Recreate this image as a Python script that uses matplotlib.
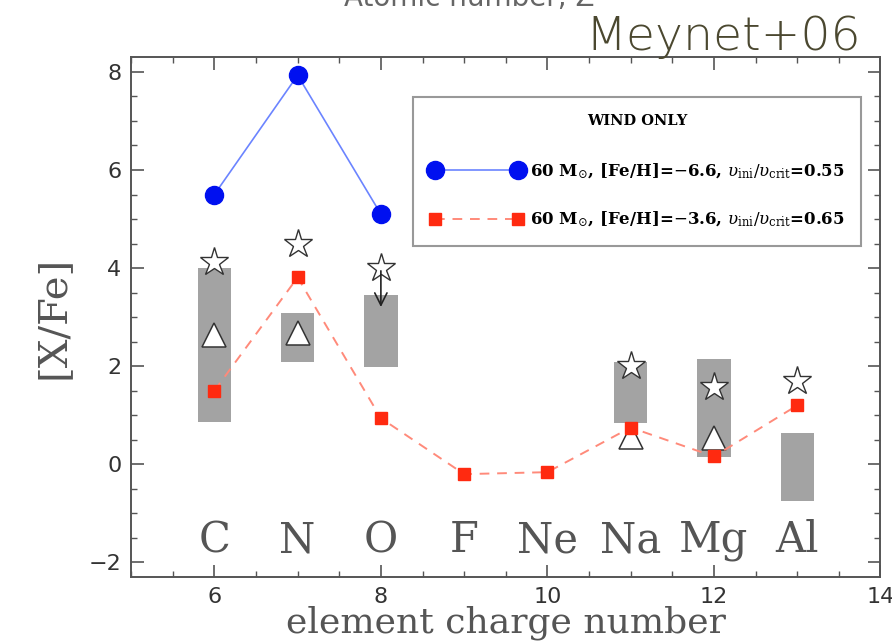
import matplotlib
matplotlib.use('Agg')
import numpy as np
import matplotlib.pyplot as plt
from matplotlib.ticker import MultipleLocator

# elementos e numero atomico
elements = ['C', 'N', 'O', 'F', 'Ne', 'Na', 'Mg', 'Al']
z_elem = [6, 7, 8, 9, 10, 11, 12, 13]

# modelo 1: 60 Msun, [Fe/H]=-6.6 (vento apenas)
z_m1 = [6, 7, 8]
xfe_m1 = [5.5, 7.93, 5.1]

# modelo 2: 60 Msun, [Fe/H]=-3.6 (vento apenas)
z_m2 = [6, 7, 8, 9, 10, 11, 12, 13]
xfe_m2 = [1.5, 3.81, 0.94, -0.2, -0.16, 0.75, 0.16, 1.2]

# faixas observadas (caixas cinzas)
z_box = [6, 7, 8, 11, 12, 13]
box_lo = [0.86, 2.08, 1.98, 0.84, 0.14, -0.75]
box_hi = [4.0, 3.08, 3.45, 2.08, 2.14, 0.63]

# estrelas observadas
z_star = [6, 7, 8, 11, 12, 13]
xfe_star = [4.12, 4.5, 4.0, 2.0, 1.57, 1.7]
z_tri = [6, 7, 11, 12]
xfe_tri = [2.63, 2.67, 0.55, 0.53]

# limite superior (seta) para O
z_lim = 8
lim_from, lim_to = 4.0, 3.15

lab1 = r'60 M$_{\odot}$, [Fe/H]=$-$6.6, $\upsilon_{\rm ini}/\upsilon_{\rm crit}$=0.55'
lab2 = r'60 M$_{\odot}$, [Fe/H]=$-$3.6, $\upsilon_{\rm ini}/\upsilon_{\rm crit}$=0.65'

plt.rcParams['mathtext.fontset'] = 'dejavuserif'

fig = plt.figure(figsize=(8.92, 6.42), dpi=100)
ax = fig.add_axes([0.147, 0.101, 0.840, 0.810])

heights = np.array(box_hi) - np.array(box_lo)
ax.bar(z_box, heights, bottom=box_lo, width=0.4, color='#a3a3a3', zorder=1)

ax.plot(z_tri, xfe_tri, linestyle='none', marker='^', markersize=17,
        markerfacecolor='white', markeredgecolor='#333333', markeredgewidth=1.1, zorder=3)

l1, = ax.plot(z_m1, xfe_m1, color='#6b84ff', linewidth=1.2, marker='o',
              markersize=13, markerfacecolor='#0010f0', markeredgecolor='#0010f0',
              zorder=4, label=lab1)
l2, = ax.plot(z_m2, xfe_m2, color='#ff8a7a', linewidth=1.4, linestyle=(0, (5, 4)),
              marker='s', markersize=9, markerfacecolor='#ff2a10',
              markeredgecolor='#ff2a10', zorder=4, label=lab2)

ax.plot(z_star, xfe_star, linestyle='none', marker='*', markersize=21,
        markerfacecolor='white', markeredgecolor='#333333', markeredgewidth=1.0, zorder=5)

ax.annotate('', xy=(z_lim, lim_to), xytext=(z_lim, lim_from),
            arrowprops=dict(arrowstyle='->', color='#222222', lw=1.2,
                            mutation_scale=22), zorder=5)

for z, el in zip(z_elem, elements):
    ax.text(z, -1.55, el, ha='center', va='center', fontsize=30,
            family='DejaVu Serif', color='#555555')

ax.set_xlim(5, 14)
ax.set_ylim(-2.3, 8.3)
ax.xaxis.set_major_locator(MultipleLocator(2))
ax.xaxis.set_minor_locator(MultipleLocator(0.5))
ax.yaxis.set_major_locator(MultipleLocator(2))
ax.yaxis.set_minor_locator(MultipleLocator(0.5))
ax.tick_params(which='both', direction='in', top=True, right=True,
               color='#555555', labelcolor='#333333', labelsize=16, pad=7)
ax.tick_params(which='major', length=9, width=1.2)
ax.tick_params(which='minor', length=4, width=1.0)
for s in ax.spines.values():
    s.set_color('#555555')
    s.set_linewidth(1.4)

ax.set_xlabel('element charge number', fontsize=26, family='DejaVu Serif',
              color='#555555', labelpad=-1)
ax.set_ylabel('[X/Fe]', fontsize=29, family='DejaVu Serif', color='#555555',
              labelpad=12)

leg = ax.legend(handles=[l1, l2], loc='upper left', bbox_to_anchor=(0.3765, 0.923),
                borderaxespad=0, title='WIND ONLY', numpoints=2, handlelength=5.6,
                prop={'family': 'DejaVu Serif', 'weight': 'bold', 'size': 12},
                labelspacing=1.75, borderpad=1.0, handletextpad=0.4,
                fancybox=False, framealpha=1, edgecolor='#999999')
leg.get_title().set_fontweight('bold')
leg.get_title().set_family('DejaVu Serif')
leg.get_title().set_fontsize(10.5)
leg._legend_box.sep = 24
leg.get_frame().set_linewidth(1.5)

fig.text(0.965, 0.922, 'Meynet+06', ha='right', va='baseline', fontsize=34,
         family='DejaVu Sans', fontweight='light', color='#4b4830')
fig.text(0.526, 0.990, 'Atomic number, Z', ha='center', va='baseline',
         fontsize=20, color='#666666')

fig.savefig('out.png', dpi=100)
